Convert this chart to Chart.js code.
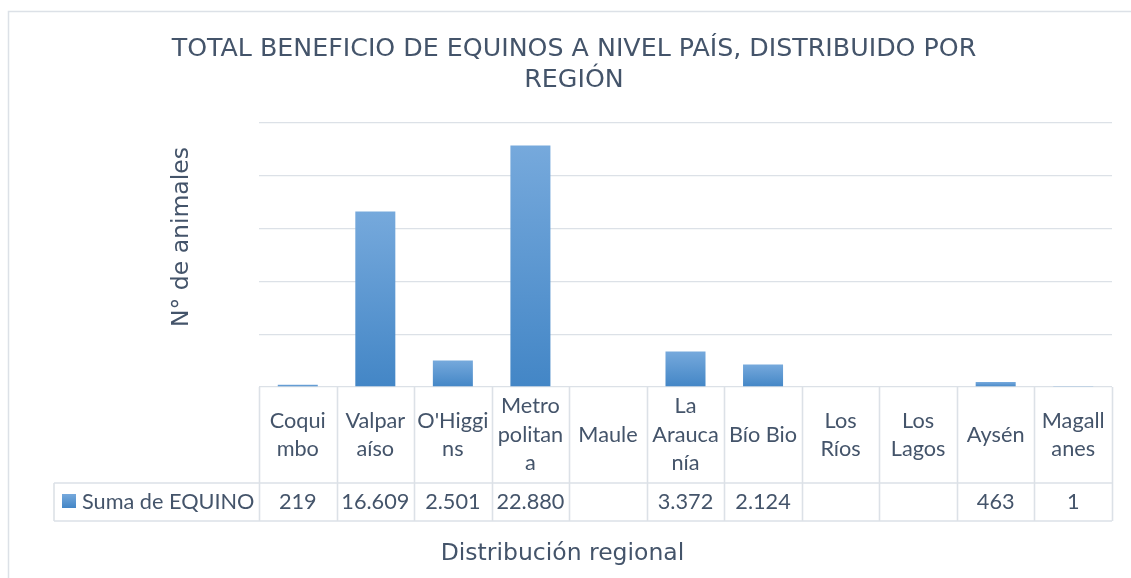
<!DOCTYPE html>
<html>
<head>
<meta charset="utf-8">
<script src="https://cdn.jsdelivr.net/npm/chart.js@4.4.1/dist/chart.umd.min.js"></script>
<style>
  html, body { margin: 0; padding: 0; background: #fff; }
  #wrap { width: 1131px; height: 578px; }
</style>
</head>
<body>
<div id="wrap"><canvas id="equinos" width="1131" height="578"></canvas></div>
<script>
// region names, wrapped the way the data table shows them
var regiones = [
    ["Coqui", "mbo"], ["Valpar", "aíso"], ["O'Higgi", "ns"], ["Metro", "politan", "a"], ["Maule"],
    ["La", "Arauca", "nía"], ["Bío Bio"], ["Los", "Ríos"], ["Los", "Lagos"], ["Aysén"], ["Magall", "anes"]
];
var sumaEquino = [219, 16609, 2501, 22880, null, 3372, 2124, null, null, 463, 1];
var nombreSerie = "Suma de EQUINO";
var titulo = ["TOTAL BENEFICIO DE EQUINOS A NIVEL PAÍS, DISTRIBUIDO POR", "REGIÓN"];
var tituloEjeY = "N° de animales";
var tituloEjeX = "Distribución regional";
var yMax = 25000;
var yPaso = 5000;

var textColor = '#44546a';
var lineColor = '#dce1e7';

// 16609 -> "16.609"
function formatoMiles(v) {
    return String(v).replace(/\B(?=(\d{3})+(?!\d))/g, '.');
}

function barGradient(ctx, top, bottom) {
    var g = ctx.createLinearGradient(0, top, 0, bottom);
    g.addColorStop(0, '#76a9dc');
    g.addColorStop(1, '#4386c6');
    return g;
}

var tablaPlugin = {
    id: 'tabla',
    beforeDraw: function (chart) {
        var ctx = chart.ctx;
        ctx.save();
        ctx.fillStyle = '#fff';
        ctx.fillRect(0, 0, chart.width, chart.height);
        // chart frame (only top and left edges are inside the picture)
        ctx.strokeStyle = lineColor;
        ctx.lineWidth = 1.5;
        ctx.beginPath();
        ctx.moveTo(8.5, chart.height);
        ctx.lineTo(8.5, 11.5);
        ctx.lineTo(chart.width, 11.5);
        ctx.stroke();
        ctx.restore();
    },
    afterDraw: function (chart) {
        var ctx = chart.ctx;
        var area = chart.chartArea;
        var x = chart.scales.x;
        var n = regiones.length;
        var w = (area.right - area.left) / n;
        var rowTop = area.bottom + 96;
        var rowBottom = rowTop + 38;
        var legendLeft = 54;

        ctx.save();
        // table grid
        ctx.strokeStyle = lineColor;
        ctx.lineWidth = 1.6;
        ctx.beginPath();
        for (var i = 0; i <= n; i++) {
            var lx = Math.round(area.left + i * w) + 0.5;
            ctx.moveTo(lx, area.bottom);
            ctx.lineTo(lx, rowBottom);
        }
        ctx.moveTo(legendLeft, rowTop);
        ctx.lineTo(area.right, rowTop);
        ctx.moveTo(legendLeft, rowBottom);
        ctx.lineTo(area.right, rowBottom);
        ctx.moveTo(legendLeft, rowTop);
        ctx.lineTo(legendLeft, rowBottom);
        ctx.stroke();

        // category labels and values
        ctx.fillStyle = textColor;
        ctx.font = '21.7px Lato';
        ctx.textAlign = 'center';
        ctx.textBaseline = 'middle';
        var lh = 28.5;
        for (var j = 0; j < n; j++) {
            var cx = x.getPixelForValue(j);
            var lines = regiones[j];
            var y0 = area.bottom + 48 - (lines.length - 1) * lh / 2;
            for (var k = 0; k < lines.length; k++) {
                ctx.fillText(lines[k], cx, y0 + k * lh);
            }
            if (sumaEquino[j] !== null) {
                ctx.fillText(formatoMiles(sumaEquino[j]), cx, rowTop + 19);
            }
        }

        // legend key in the table
        ctx.fillStyle = barGradient(ctx, rowTop + 11, rowTop + 25);
        ctx.fillRect(62, rowTop + 11, 14, 14);
        ctx.fillStyle = textColor;
        ctx.textAlign = 'left';
        ctx.fillText(nombreSerie, 82, rowTop + 19);

        // titles
        ctx.textAlign = 'center';
        ctx.textBaseline = 'alphabetic';
        ctx.font = '25.3px "DejaVu Sans"';
        ctx.fillText(titulo[0], 574, 56);
        ctx.fillText(titulo[1], 574, 86.5);

        ctx.font = '23.5px "DejaVu Sans"';
        ctx.fillText(tituloEjeX, 562.5, 560);

        ctx.translate(188, 237);
        ctx.rotate(-Math.PI / 2);
        ctx.fillText(tituloEjeY, 0, 0);
        ctx.restore();
    }
};

var canvas = document.getElementById('equinos');
var chart = new Chart(canvas.getContext('2d'), {
    type: 'bar',
    data: {
        labels: regiones,
        datasets: [{
            label: nombreSerie,
            data: sumaEquino,
            backgroundColor: function (context) {
                var c = context.chart;
                if (!c.chartArea || context.raw === null || context.raw === undefined) {
                    return '#5b9bd5';
                }
                var ys = c.scales.y;
                return barGradient(c.ctx, ys.getPixelForValue(context.raw), ys.getPixelForValue(0));
            },
            borderWidth: 0,
            barPercentage: 0.516,
            categoryPercentage: 1,
            minBarLength: 1
        }]
    },
    options: {
        responsive: false,
        animation: false,
        layout: { padding: { left: 259, top: 123, right: 19, bottom: 191 } },
        plugins: {
            legend: { display: false },
            title: { display: false },
            tooltip: { enabled: false }
        },
        scales: {
            x: { display: false },
            y: {
                min: 0,
                max: yMax,
                ticks: { display: false, stepSize: yPaso },
                grid: { color: lineColor, lineWidth: 1.3, drawTicks: false },
                border: { display: false },
                afterFit: function (s) { s.width = 0; }
            }
        }
    },
    plugins: [tablaPlugin]
});
</script>
</body>
</html>
